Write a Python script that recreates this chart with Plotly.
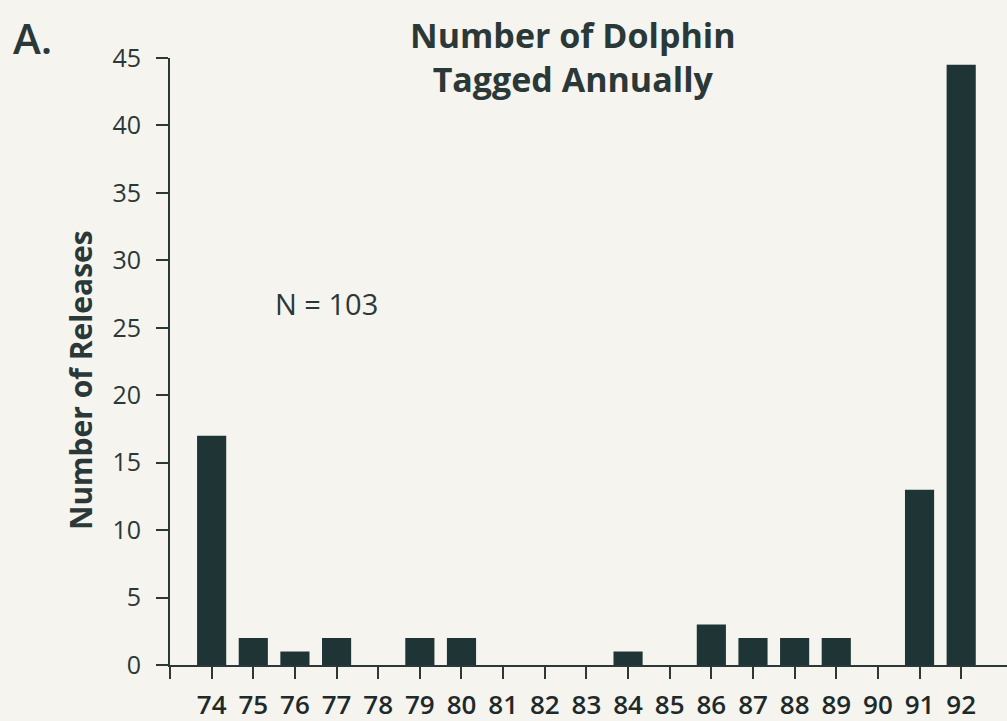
import plotly.graph_objects as go

years = [74, 75, 76, 77, 78, 79, 80, 81, 82, 83, 84, 85, 86, 87, 88, 89, 90, 91, 92]
releases = [17, 2, 1, 2, 0, 2, 2, 0, 0, 0, 1, 0, 3, 2, 2, 2, 0, 13, 44.5]
y_ticks = [0, 5, 10, 15, 20, 25, 30, 35, 40, 45]

bar_color = "#1f3434"
text_color = "#2a3838"
bg = "#f6f4ef"
font_family = "Open Sans, Noto Sans, sans-serif"

W, H = 1007, 721
ML, MR, MT, MB = 170, 0, 58, 56

fig = go.Figure()
fig.add_trace(go.Bar(
    x=years, y=releases, width=0.7,
    marker=dict(color=bar_color, line=dict(width=0)),
))

x_tickvals = [73] + years
x_ticktext = [""] + [str(y) for y in years]

plot_w = W - ML - MR
plot_h = H - MT - MB


def px(xp):
    return (xp - ML) / plot_w


def py(yp):
    return (H - MB - yp) / plot_h


fig.update_layout(
    width=W, height=H,
    paper_bgcolor=bg, plot_bgcolor=bg,
    margin=dict(l=ML, r=MR, t=MT, b=MB),
    showlegend=False,
    font=dict(family=font_family, color=text_color),
    xaxis=dict(
        range=[73, 93.1], tickvals=x_tickvals, ticktext=x_ticktext,
        showgrid=False, zeroline=False, showline=True, linecolor=text_color, linewidth=2,
        ticks="outside", ticklen=12, tickwidth=2, tickcolor=text_color,
        tickfont=dict(size=26, family=font_family, color="#1e2a2a", weight=600),
        ticklabelstandoff=4,
    ),
    yaxis=dict(
        range=[0, 45], tickvals=y_ticks,
        showgrid=False, zeroline=False, showline=True, linecolor=text_color, linewidth=2,
        ticks="outside", ticklen=12, tickwidth=2, tickcolor=text_color,
        tickfont=dict(size=25, family=font_family, color=text_color),
        ticklabelstandoff=10,
    ),
    annotations=[
        dict(text="<b>Number of Dolphin<br>Tagged Annually</b>", x=px(572), y=py(57),
             xref="paper", yref="paper", xanchor="center", yanchor="middle", showarrow=False,
             font=dict(size=34, family=font_family, color=text_color)),
        dict(text="A.", xref="paper", yref="paper", x=px(32), y=py(38), xanchor="center", yanchor="middle",
             showarrow=False, font=dict(size=42, family=font_family, color=text_color, weight=600)),
        dict(text="N = 103", x=76.75, y=26.8, xref="x", yref="y", showarrow=False,
             font=dict(size=29, family=font_family, color=text_color)),
        dict(text="<b>Number of Releases</b>", x=px(80), y=py(380), xref="paper", yref="paper",
             xanchor="center", yanchor="middle", textangle=-90, showarrow=False,
             font=dict(size=30, family=font_family, color=text_color)),
    ],
)

fig.write_html("out.html", config={"displayModeBar": False},
               post_script="document.body.style.margin='0';document.body.style.overflow='hidden';")
